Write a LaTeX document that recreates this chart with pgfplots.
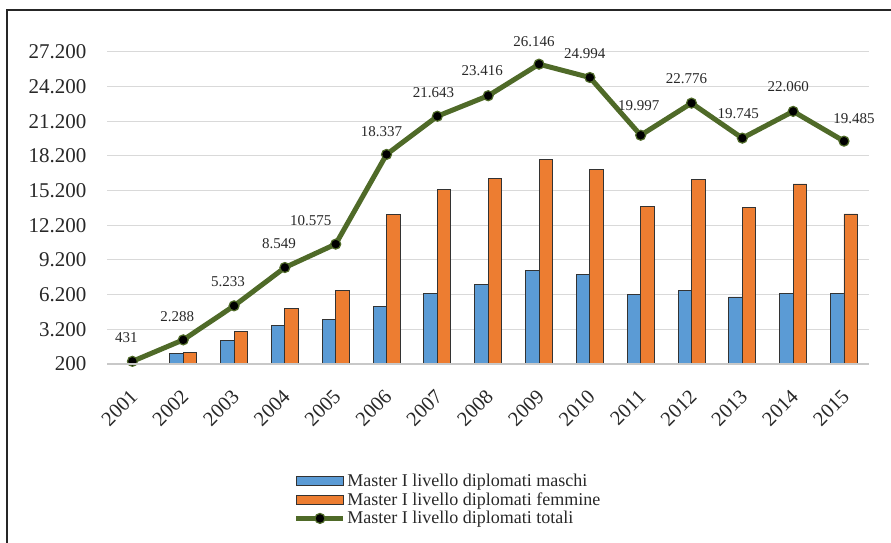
\documentclass[border=0pt]{standalone}
\usepackage{pgfplots}
\usepackage{pgfplotstable}
\pgfplotsset{compat=1.18}
\usepackage{fontspec}
\setmainfont{Liberation Serif}
\definecolor{cblue}{RGB}{91,155,213}
\definecolor{corange}{RGB}{237,125,49}
\definecolor{cgreen}{RGB}{79,106,40}
\definecolor{cgrid}{RGB}{217,217,217}
\definecolor{caxis}{RGB}{200,200,200}
\definecolor{ctext}{RGB}{40,40,40}
\pgfplotstableread{
x y dx dy
0 431 -6 24
1 2288 -6 23
2 5233 -6 24
3 8549 -6 24
4 10575 -25 23
5 18337 -5 23
6 21643 -4 24
7 23416 -6 25
8 26146 -5 23
9 24994 -5 24
10 19997 -2 30
11 22776 -5 24
12 19745 -4 25
13 22060 -5 25
14 19485 10 23
}\totali
\begin{document}
\begin{tikzpicture}
\useasboundingbox (0,0) rectangle (891bp,543bp);
\draw[line width=1.5bp, black!85] (7bp,-5bp) -- (7bp,533bp) -- (900bp,533bp);
\begin{axis}[
  at={(107bp,179bp)}, anchor=south west,
  scale only axis, width=762.4bp, height=312bp,
  xmin=-0.5, xmax=14.5,
  ymin=200, ymax=27200,
  ytick={200,3200,...,27200},
  scaled y ticks=false,
  xtick={0,...,14},
  xticklabels={2001,2002,2003,2004,2005,2006,2007,2008,2009,2010,2011,2012,2013,2014,2015},
  major tick length=0pt,
  axis line style={draw=none},
  ymajorgrids, grid style={cgrid, line width=1bp},
  clip mode=individual,
  /pgf/number format/assume math mode=true,
  /pgf/number format/fixed,
  /pgf/number format/1000 sep={.},
  yticklabel style={font=\fontsize{21bp}{24bp}\selectfont, text=ctext, anchor=east, xshift=-17bp},
  xticklabel style={font=\fontsize{20.5bp}{24bp}\selectfont, text=ctext, anchor=east, xshift=4bp, yshift=-27bp, rotate=45},
  legend style={at={(0.245,-0.348)}, anchor=north west, draw=none, fill=none,
    font=\fontsize{18bp}{20bp}\selectfont, text=ctext, inner sep=0pt, row sep=1.5bp,
    nodes={inner sep=1.5bp}},
  legend cell align=left,
]
\addplot[ybar, bar width=13.5bp, bar shift=-6.75bp, fill=cblue, draw=black!80, line width=0.8bp,
  legend image code/.code={\draw[fill=cblue, draw=black!80, line width=0.8bp] (0bp,-4.5bp) rectangle (47bp,4.5bp);}]
  coordinates {(0,190) (1,1090) (2,2250) (3,3560) (4,4020) (5,5180) (6,6320) (7,7120) (8,8260) (9,7940) (10,6180) (11,6580) (12,6000) (13,6280) (14,6300)};
\addlegendentry{Master I livello diplomati maschi}
\addplot[ybar, bar width=13.5bp, bar shift=6.75bp, fill=corange, draw=black!80, line width=0.8bp,
  legend image code/.code={\draw[fill=corange, draw=black!80, line width=0.8bp] (0bp,-4.5bp) rectangle (47bp,4.5bp);}]
  coordinates {(0,241) (1,1198) (2,2983) (3,4989) (4,6555) (5,13157) (6,15323) (7,16296) (8,17886) (9,17054) (10,13817) (11,16196) (12,13745) (13,15780) (14,13185)};
\addlegendentry{Master I livello diplomati femmine}
\addplot[cgreen, line width=5bp, mark=*, mark size=5bp, mark options={fill=black, draw=cgreen, line width=1.2bp},
  visualization depends on={\thisrow{dx} \as \ldx},
  visualization depends on={\thisrow{dy} \as \ldy},
  nodes near coords,
  every node near coord/.append style={font=\fontsize{15bp}{18bp}\selectfont, text=ctext, anchor=center, xshift=\ldx bp, yshift=\ldy bp},
  legend image code/.code={\draw[cgreen, line width=5bp] (0bp,0bp) -- (47bp,0bp); \draw[fill=black, draw=cgreen, line width=1.2bp] (23.5bp,0bp) circle (5bp);}]
  table[x=x, y=y] {\totali};
\addlegendentry{Master I livello diplomati totali}
\draw[caxis, line width=1.5bp] (rel axis cs:0,0) -- (rel axis cs:1,0);
\end{axis}
\end{tikzpicture}
\end{document}
